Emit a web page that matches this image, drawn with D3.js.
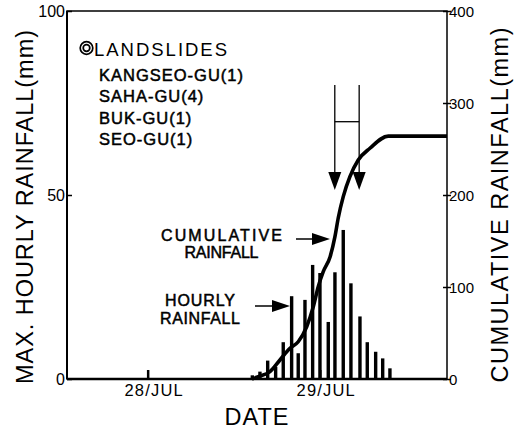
<!DOCTYPE html>
<html>
<head>
<meta charset="utf-8">
<script src="https://cdn.jsdelivr.net/npm/d3@7"></script>
<style>
  body { margin: 0; background: #fff; }
  svg text { font-family: "Liberation Sans", Arial, sans-serif; fill: #000; }
</style>
</head>
<body>
<div id="chart"></div>
<script>
// hourly bars: time in hours from 28 Jul 00:00
var barHours = [14.6, 15.66, 16.74, 17.85, 18.91, 20.08, 21.0, 21.94, 23.01, 24.03, 25.19, 26.12, 27.28, 28.35, 29.61, 30.63, 31.8, 32.78, 33.79];
var hourlyRain = [1, 2, 5, 3.3, 10, 22.5, 7, 21.5, 31, 28.8, 15.5, 29, 40.5, 26, 17, 10, 7.4, 5.6, 2.9];

// cumulative rainfall curve
var cumHours = [14.55, 15.43, 17.06, 18.45, 19.85, 21.0, 22.18, 23.1, 23.79, 24.49, 25.45, 26.12, 26.58, 27.28, 28.21, 29.37, 31.0, 33.56, 41.75];
var cumRain = [0, 2.5, 8, 20.7, 33.4, 40.5, 56.8, 78.6, 100.3, 116.6, 132.9, 154.7, 175, 198.2, 219.9, 238, 250.8, 264, 264];

var dayTicks = [0, 24];
var dayLabels = ["28/JUL", "29/JUL"];
var leftTicks = [0, 50, 100];
var rightTicks = [0, 100, 200, 300, 400];
var landslideHours = [26.1, 29.5];
var legendTitle = "LANDSLIDES";
var legendItems = ["KANGSEO-GU(1)", "SAHA-GU(4)", "BUK-GU(1)", "SEO-GU(1)"];

var W = 515, H = 429;
var margin = {left: 67, top: 11, right: 68, bottom: 50};
var w = W - margin.left - margin.right;
var h = H - margin.top - margin.bottom;

var svg = d3.select("#chart").append("svg").attr("width", W).attr("height", H);
var g = svg.append("g").attr("transform", "translate(" + margin.left + "," + margin.top + ")");

var x = d3.scaleLinear().domain([-11.25, 41.75]).range([0, w]);
var yL = d3.scaleLinear().domain([0, 100]).range([h, 0]);
var yR = d3.scaleLinear().domain([0, 400]).range([h, 0]);

// bars
g.selectAll("rect.bar").data(hourlyRain).enter().append("rect")
  .attr("class", "bar")
  .attr("x", function(d, i){ return x(barHours[i]) - 1.7; })
  .attr("width", 3.4)
  .attr("y", function(d){ return yL(d); })
  .attr("height", function(d){ return h - yL(d); })
  .attr("fill", "#000");

// cumulative line
var line = d3.line()
  .x(function(d, i){ return x(cumHours[i]); })
  .y(function(d){ return yR(d); })
  .curve(d3.curveMonotoneX);
g.append("path").datum(cumRain)
  .attr("d", line)
  .attr("fill", "none").attr("stroke", "#000").attr("stroke-width", 3.6)
  .attr("stroke-linejoin", "round");

// frame
g.append("rect").attr("width", w).attr("height", h)
  .attr("fill", "none").attr("stroke", "#000").attr("stroke-width", 1.5);
g.append("line").attr("x1", 0).attr("x2", w).attr("y1", h).attr("y2", h)
  .attr("stroke", "#000").attr("stroke-width", 2.5);
g.append("line").attr("x1", 0).attr("x2", 0).attr("y1", 0).attr("y2", h)
  .attr("stroke", "#000").attr("stroke-width", 2);

// left axis
var axL = g.append("g").call(d3.axisLeft(yL).tickValues(leftTicks).tickSizeInner(-5).tickSizeOuter(0).tickPadding(2));
axL.select(".domain").remove();
axL.selectAll("line").attr("stroke-width", 1.5);
axL.selectAll("text").attr("font-size", 16).attr("dy", "0.35em");

// right axis
var axR = g.append("g").attr("transform", "translate(" + w + ",0)")
  .call(d3.axisRight(yR).tickValues(rightTicks).tickSizeInner(4).tickSizeOuter(0).tickPadding(-2));
axR.select(".domain").remove();
axR.selectAll("line").attr("x1", -4).attr("stroke-width", 1.5);
axR.selectAll("text").attr("font-size", 15).attr("dy", "0.35em");

// bottom axis
var axB = g.append("g").attr("transform", "translate(0," + h + ")")
  .call(d3.axisBottom(x).tickValues(dayTicks).tickFormat(function(d, i){ return dayLabels[i]; })
    .tickSizeInner(-9).tickSizeOuter(0).tickPadding(5));
axB.select(".domain").remove();
axB.selectAll("line").attr("stroke-width", 2.5);
axB.selectAll("text").attr("font-size", 16.5).attr("letter-spacing", 1.2).attr("dx", 6);

// axis titles
svg.append("text").attr("transform", "translate(33,207) rotate(-90)")
  .attr("text-anchor", "middle").attr("font-size", 23.5)
  .attr("textLength", 354).attr("lengthAdjust", "spacing").text("MAX. HOURLY RAINFALL(mm)");
svg.append("text").attr("transform", "translate(508,205) rotate(-90)")
  .attr("text-anchor", "middle").attr("font-size", 23.5)
  .attr("textLength", 355).attr("lengthAdjust", "spacing").text("CUMULATIVE RAINFALL(mm)");
svg.append("text").attr("x", 257).attr("y", 425)
  .attr("text-anchor", "middle").attr("font-size", 23.5).attr("letter-spacing", 1).text("DATE");

// legend
var lg = svg.append("g");
lg.append("circle").attr("cx", 86.5).attr("cy", 48).attr("r", 6.3).attr("fill", "none").attr("stroke", "#000").attr("stroke-width", 1.7);
lg.append("circle").attr("cx", 86.5).attr("cy", 48).attr("r", 3.3).attr("fill", "none").attr("stroke", "#000").attr("stroke-width", 1.7);
lg.append("text").attr("x", 94).attr("y", 55.5).attr("font-size", 18.5)
  .attr("textLength", 133).attr("lengthAdjust", "spacing").text(legendTitle);
lg.selectAll("text.item").data(legendItems).enter().append("text")
  .attr("class", "item")
  .attr("x", 99).attr("y", function(d, i){ return 80.5 + i * 21.5; })
  .attr("font-size", 16.5).attr("stroke", "#000").attr("stroke-width", 0.5)
  .attr("letter-spacing", 1).text(function(d){ return d; });

// landslide period markers
var lTop = 85, lBot = 190;
landslideHours.forEach(function(t){
  var px = x(t);
  g.append("line").attr("x1", px).attr("x2", px).attr("y1", lTop - margin.top).attr("y2", lBot - margin.top - 16)
    .attr("stroke", "#000").attr("stroke-width", 1.3);
  g.append("path").attr("d", "M" + (px - 6.5) + "," + (lBot - margin.top - 18) + "L" + (px + 6.5) + "," + (lBot - margin.top - 18) + "L" + px + "," + (lBot - margin.top) + "Z")
    .attr("fill", "#000");
});
g.append("line").attr("x1", x(landslideHours[0])).attr("x2", x(landslideHours[1]))
  .attr("y1", 121.7 - margin.top).attr("y2", 121.7 - margin.top)
  .attr("stroke", "#000").attr("stroke-width", 1.3);

// annotation labels with arrows
function arrowRight(x1, x2, y){
  svg.append("line").attr("x1", x1).attr("x2", x2 - 16).attr("y1", y).attr("y2", y)
    .attr("stroke", "#000").attr("stroke-width", 1.5);
  svg.append("path").attr("d", "M" + (x2 - 18) + "," + (y - 6) + "L" + x2 + "," + y + "L" + (x2 - 18) + "," + (y + 6) + "Z")
    .attr("fill", "#000");
}
function label(txt, cx, y, len){
  svg.append("text").attr("x", cx - len / 2).attr("y", y)
    .attr("font-size", 16).attr("stroke", "#000").attr("stroke-width", 0.5)
    .attr("textLength", len).attr("lengthAdjust", "spacing").text(txt);
}
label("CUMULATIVE", 221.5, 241, 121);
label("RAINFALL", 221.5, 258, 74);
arrowRight(296, 330, 239);

label("HOURLY", 200, 306, 70);
label("RAINFALL", 200, 324, 80);
arrowRight(255, 290, 306);
</script>
</body>
</html>
